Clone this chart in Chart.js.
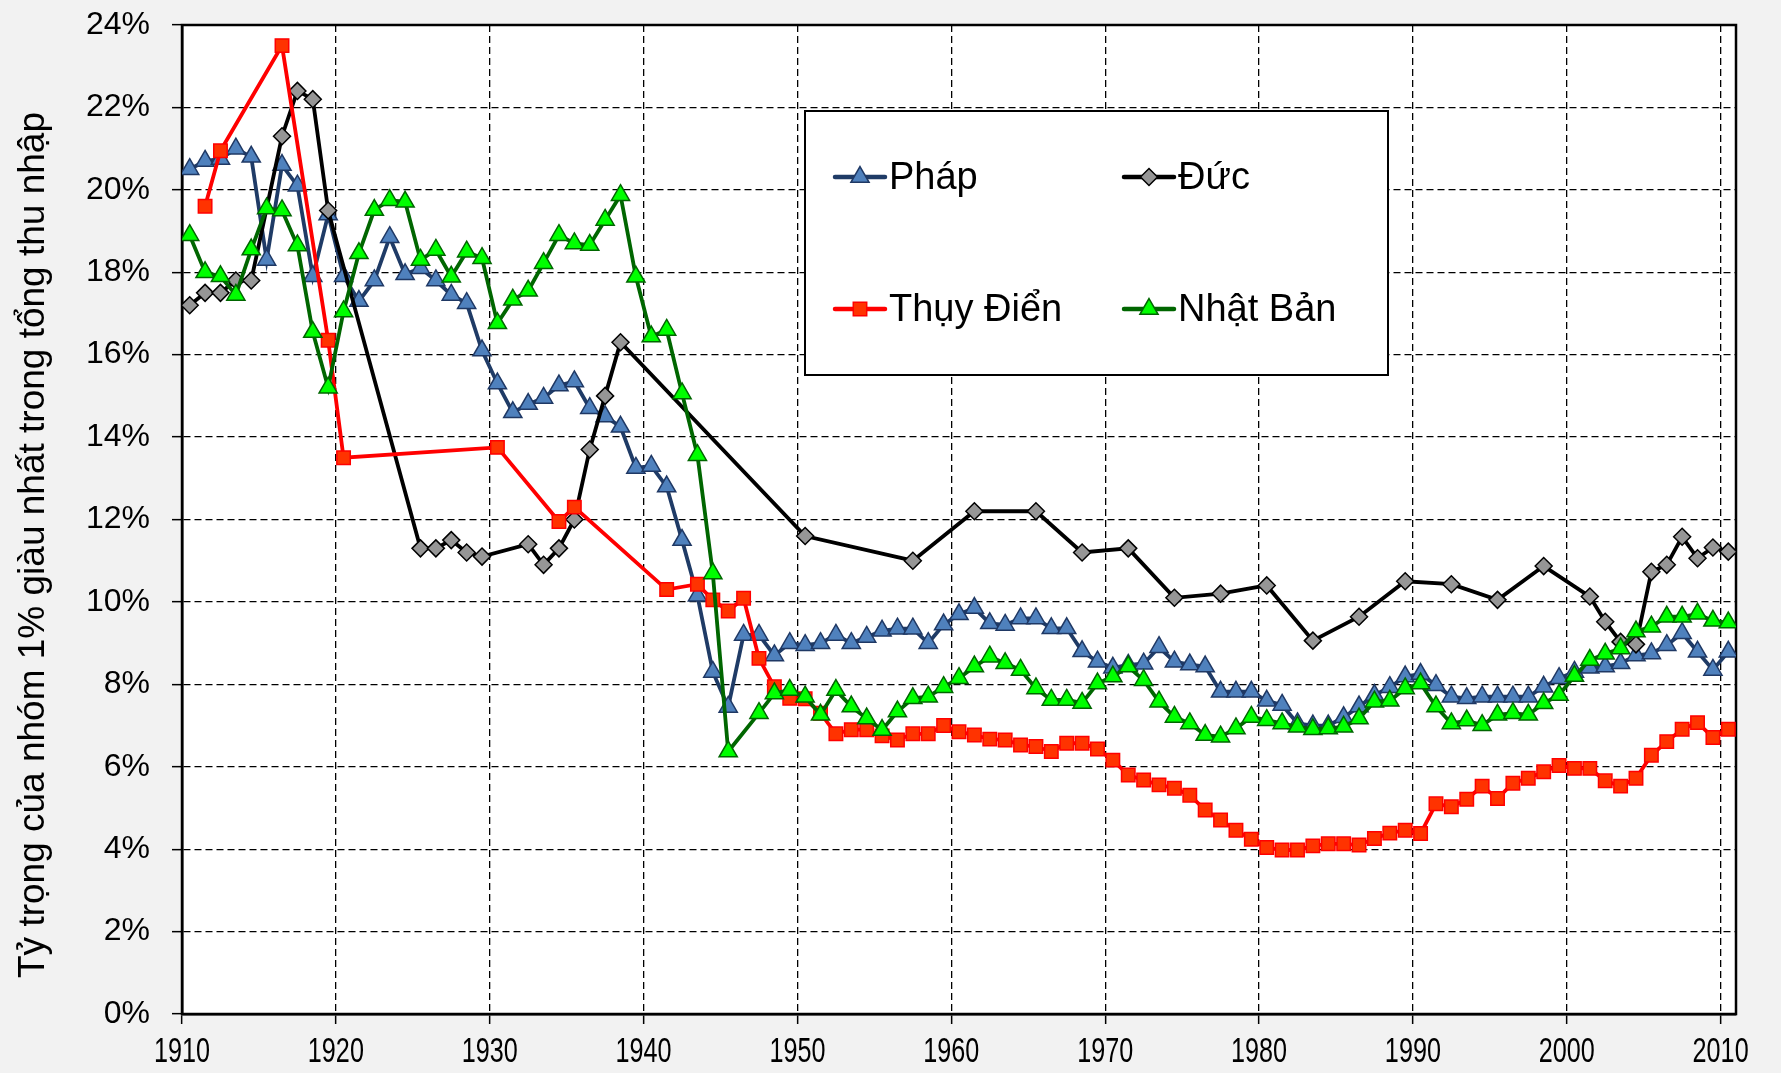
<!DOCTYPE html>
<html>
<head>
<meta charset="utf-8">
<script src="https://cdn.jsdelivr.net/npm/chart.js@4.4.1/dist/chart.umd.min.js"></script>
<style>
  html, body { margin: 0; padding: 0; background: #f2f2f2; }
  canvas { display: block; }
</style>
</head>
<body>
<canvas id="chart" width="1781" height="1073"></canvas>
<script>
// ---------------- DATA ----------------
function yearsFrom(a, b) { const r = []; for (let y = a; y <= b; y++) r.push(y); return r; }

const xTickYears = [1910, 1920, 1930, 1940, 1950, 1960, 1970, 1980, 1990, 2000, 2010];
const yTickValues = [0, 2, 4, 6, 8, 10, 12, 14, 16, 18, 20, 22, 24];
const seriesNames = ['Pháp', 'Đức', 'Thụy Điển', 'Nhật Bản'];
const yAxisTitle = 'Tỷ trọng của nhóm 1% giàu nhất trong tổng thu nhập';

// France (Pháp), 1910–2010
const franceYears = yearsFrom(1910, 2010);
const franceValues = [
  20.5, 20.7, 20.75, 21.0, 20.8, 18.3, 20.6, 20.1, 17.9, 19.4,
  17.9, 17.3, 17.8, 18.85, 17.95, 18.1, 17.8, 17.45, 17.25, 16.1,
  15.3, 14.6, 14.8, 14.95, 15.25, 15.35, 14.7, 14.5, 14.25, 13.25,
  13.3, 12.8, 11.5, 10.15, 8.3, 7.45, 9.2, 9.2, 8.7, 9.0,
  8.95, 9.0, 9.2, 9.0, 9.15, 9.3, 9.35, 9.35, 9.0, 9.45,
  9.7, 9.85, 9.48, 9.44, 9.6, 9.6, 9.36, 9.36, 8.8, 8.55,
  8.4, 8.47, 8.5, 8.9, 8.55, 8.48, 8.43, 7.82, 7.82, 7.82,
  7.6, 7.5, 7.05, 7.0, 7.0, 7.2, 7.46, 7.74, 7.93, 8.19,
  8.25, 7.98, 7.7, 7.66, 7.7, 7.7, 7.7, 7.7, 7.94, 8.15,
  8.3, 8.4, 8.43, 8.51, 8.7, 8.75, 8.95, 9.24, 8.79, 8.35,
  8.79
];

// Germany (Đức)
const germanyYears = [
  1910, 1911, 1912, 1913, 1914, 1916, 1917, 1918, 1919,
  1925, 1926, 1927, 1928, 1929, 1932, 1933, 1934, 1935, 1936, 1937, 1938,
  1950, 1957, 1961, 1965, 1968, 1971, 1974, 1977, 1980, 1983, 1986, 1989, 1992, 1995, 1998, 2001,
  2002, 2003, 2004, 2005, 2006, 2007, 2008, 2009, 2010
];
const germanyValues = [
  17.2, 17.5, 17.5, 17.8, 17.8, 21.3, 22.4, 22.2, 19.5,
  11.3, 11.3, 11.5, 11.2, 11.1, 11.4, 10.9, 11.3, 12.0, 13.7, 15.0, 16.3,
  11.6, 11.0, 12.2, 12.2, 11.2, 11.3, 10.1, 10.2, 10.4, 9.06, 9.64, 10.5, 10.43, 10.05, 10.87, 10.13,
  9.52, 9.03, 8.97, 10.73, 10.9, 11.58, 11.06, 11.32, 11.22
];

// Sweden (Thụy Điển)
const swedenYears = [1911, 1912, 1916, 1919, 1920, 1930, 1934, 1935, 1941].concat(yearsFrom(1943, 2010));
const swedenValues = [
  19.6, 20.95, 23.5, 16.35, 13.5, 13.75, 11.95, 12.3, 10.3,
  10.43, 10.05, 9.78, 10.09, 8.63, 7.94, 7.66,
  7.65, 7.3, 6.8, 6.9, 6.9, 6.75, 6.65, 6.8, 6.8, 7.0,
  6.85, 6.77, 6.67, 6.65, 6.53, 6.49, 6.37, 6.57, 6.57, 6.43,
  6.16, 5.80, 5.68, 5.56, 5.48, 5.31, 4.95, 4.71, 4.46, 4.24,
  4.04, 3.98, 3.98, 4.08, 4.13, 4.13, 4.10, 4.26, 4.39, 4.46,
  4.38, 5.10, 5.03, 5.21, 5.53, 5.23, 5.60, 5.72, 5.88, 6.03,
  5.96, 5.96, 5.66, 5.53, 5.72, 6.28, 6.61, 6.91, 7.07, 6.71,
  6.91
];

// Japan (Nhật Bản)
const japanYears = yearsFrom(1910, 1945).concat(yearsFrom(1947, 2010));
const japanValues = [
  18.9, 18.0, 17.9, 17.45, 18.55, 19.55, 19.5, 18.65, 16.55, 15.2,
  17.05, 18.46, 19.51, 19.75, 19.71, 18.3, 18.54, 17.89, 18.5, 18.34,
  16.76, 17.33, 17.55, 18.22, 18.9, 18.7, 18.66, 19.27, 19.87, 17.89,
  16.44, 16.6, 15.06, 13.56, 10.69, 6.37,
  7.30, 7.78, 7.86,
  7.7, 7.26, 7.86, 7.46, 7.17, 6.89, 7.34, 7.66, 7.7, 7.93,
  8.15, 8.43, 8.67, 8.51, 8.35, 7.9, 7.62, 7.62, 7.55, 8.02,
  8.19, 8.43, 8.1, 7.58, 7.21, 7.05, 6.77, 6.73, 6.93, 7.21,
  7.13, 7.05, 6.97, 6.91, 6.93, 6.97, 7.17, 7.58, 7.6, 7.9,
  8.02, 7.46, 7.05, 7.12, 7.01, 7.26, 7.3, 7.26, 7.54, 7.74,
  8.2, 8.59, 8.74, 8.87, 9.28, 9.4, 9.64, 9.64, 9.71, 9.54,
  9.5
];

// Annual values are plotted at mid-year
const MID_YEAR = 0.5;
function toPoints(years, values) {
  if (years.length !== values.length) console.warn('length mismatch', years.length, values.length);
  return years.map((y, i) => ({ x: y + MID_YEAR, y: values[i] }));
}

// ---------------- STYLE ----------------
const FONT = "'Liberation Sans', Arial, Helvetica, sans-serif";
Chart.defaults.font.family = FONT;
Chart.defaults.color = '#000';

const styles = [
  { line: '#1f3b66', fill: '#4f81bd', stroke: '#1f3864', point: 'triangle', radius: 10.5, order: 3 },
  { line: '#000000', fill: '#969696', stroke: '#000000', point: 'rectRot', radius: 8.5, order: 2 },
  { line: '#ff0000', fill: '#ff3300', stroke: '#ff0000', point: 'rect', radius: 9.5, order: 1 },
  { line: '#006600', fill: '#00ff00', stroke: '#006600', point: 'triangle', radius: 10.5, order: 0 }
];
const seriesData = [
  toPoints(franceYears, franceValues),
  toPoints(germanyYears, germanyValues),
  toPoints(swedenYears, swedenValues),
  toPoints(japanYears, japanValues)
];

const datasets = seriesNames.map((name, i) => ({
  label: name,
  data: seriesData[i],
  order: styles[i].order,
  borderColor: styles[i].line,
  borderWidth: 3.8,
  pointStyle: styles[i].point,
  pointRadius: styles[i].radius,
  pointBackgroundColor: styles[i].fill,
  pointBorderColor: styles[i].stroke,
  pointBorderWidth: 1.5,
  tension: 0,
  fill: false
}));

// ---------------- PLUGINS ----------------
const framePlugin = {
  id: 'frame',
  beforeDraw(chart) {
    const { ctx, chartArea: a } = chart;
    ctx.save();
    ctx.fillStyle = '#f2f2f2';
    ctx.fillRect(0, 0, chart.width, chart.height);
    ctx.fillStyle = '#ffffff';
    ctx.fillRect(a.left, a.top, a.right - a.left, a.bottom - a.top);
    ctx.restore();
  },
  beforeDatasetsDraw(chart) {
    const { ctx, chartArea: a } = chart;
    ctx.save();
    ctx.strokeStyle = '#000';
    ctx.lineWidth = 2.5;
    ctx.strokeRect(a.left, a.top, a.right - a.left, a.bottom - a.top);
    ctx.restore();
  },
  afterDraw(chart) {
    const { ctx } = chart;
    // y axis title, centred on the canvas height as in the original
    ctx.save();
    ctx.translate(34, 545);
    ctx.rotate(-Math.PI / 2);
    ctx.fillStyle = '#000';
    ctx.font = '37px ' + FONT;
    ctx.textAlign = 'center';
    ctx.textBaseline = 'middle';
    ctx.fillText(yAxisTitle, 0, 0);
    ctx.restore();
    // x tick labels in a condensed (horizontally narrowed) face, placed by the x scale
    const xs = chart.scales.x;
    ctx.save();
    ctx.fillStyle = '#000';
    ctx.font = '35px ' + FONT;
    ctx.textAlign = 'center';
    ctx.textBaseline = 'middle';
    xs.ticks.forEach(t => {
      const px = xs.getPixelForValue(t.value);
      ctx.save();
      ctx.translate(px, xs.top + 38);
      ctx.scale(0.72, 1);
      ctx.fillText(String(t.value), 0, 0);
      ctx.restore();
    });
    ctx.restore();
  }
};

const legendBox = { x: 805, y: 111, w: 583, h: 264 };
const legendItems = [
  { col: 0, row: 0 }, { col: 1, row: 0 }, { col: 0, row: 1 }, { col: 1, row: 1 }
];
const boxLegendPlugin = {
  id: 'boxLegend',
  afterDatasetsDraw(chart) {
    const { ctx } = chart;
    ctx.save();
    ctx.fillStyle = '#fff';
    ctx.fillRect(legendBox.x, legendBox.y, legendBox.w, legendBox.h);
    ctx.strokeStyle = '#000';
    ctx.lineWidth = 2;
    ctx.strokeRect(legendBox.x, legendBox.y, legendBox.w, legendBox.h);
    const colX = [835, 1124];
    const rowY = [177, 309];
    chart.data.datasets.forEach((ds, i) => {
      const it = legendItems[i];
      const x0 = colX[it.col], y = rowY[it.row];
      ctx.strokeStyle = ds.borderColor;
      ctx.lineWidth = 4.5;
      ctx.lineCap = 'round';
      ctx.beginPath();
      ctx.moveTo(x0, y);
      ctx.lineTo(x0 + 50, y);
      ctx.stroke();
      ctx.fillStyle = ds.pointBackgroundColor;
      ctx.strokeStyle = ds.pointBorderColor;
      ctx.lineWidth = ds.pointBorderWidth;
      Chart.helpers.drawPoint(ctx, { pointStyle: ds.pointStyle, radius: ds.pointRadius, rotation: 0, borderWidth: ds.pointBorderWidth }, x0 + 25, y);
      ctx.fillStyle = '#000';
      ctx.font = '38px ' + FONT;
      ctx.textAlign = 'left';
      ctx.textBaseline = 'middle';
      ctx.fillText(ds.label, x0 + 54, y + 2);
    });
    ctx.restore();
  }
};

// ---------------- CHART ----------------
new Chart(document.getElementById('chart'), {
  type: 'line',
  data: { datasets },
  options: {
    responsive: false,
    animation: false,
    devicePixelRatio: 1,
    layout: { padding: { left: 0, top: 25, right: 45, bottom: 0 } },
    plugins: { legend: { display: false }, tooltip: { enabled: false } },
    scales: {
      x: {
        type: 'linear',
        min: 1910,
        max: 2011,
        afterBuildTicks(scale) { scale.ticks = xTickYears.map(v => ({ value: v })); },
        afterFit(scale) { scale.height = 59; },
        ticks: {
          display: false,
          autoSkip: false, maxRotation: 0, minRotation: 0,
          callback: v => String(v)
        },
        grid: { color: '#000', lineWidth: 1.3, tickLength: 10, tickColor: '#000', tickWidth: 1.5, tickBorderDash: [] },
        border: { display: true, color: '#000', width: 2.5, dash: [7, 4] }
      },
      y: {
        min: 0,
        max: 24,
        afterBuildTicks(scale) { scale.ticks = yTickValues.map(v => ({ value: v })); },
        afterFit(scale) { scale.width = 182; scale.paddingTop = 0; scale.paddingBottom = 0; },
        ticks: {
          padding: 22,
          color: '#000',
          font: { size: 32 },
          callback: v => v + '%'
        },
        title: { display: false, text: yAxisTitle },
        grid: { color: '#000', lineWidth: 1.3, tickLength: 10, tickColor: '#000', tickWidth: 1.5, tickBorderDash: [] },
        border: { display: true, color: '#000', width: 2.5, dash: [7, 4] }
      }
    }
  },
  plugins: [framePlugin, boxLegendPlugin]
});
</script>
</body>
</html>
